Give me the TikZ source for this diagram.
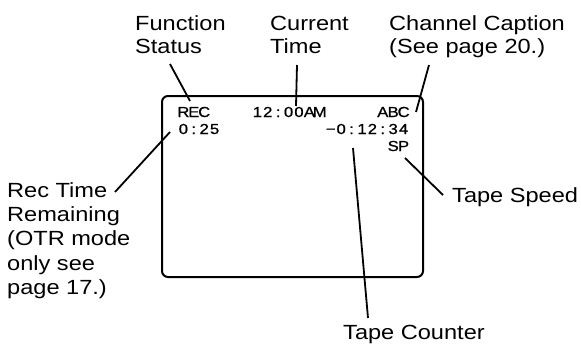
\documentclass[tikz,border=0pt]{standalone}
\usepackage{fontspec}
\setmainfont{Liberation Sans}[FakeStretch=1.15]
\newfontfamily\osdfont{Liberation Sans}[FakeStretch=1.15,FakeBold=0.8]
\newcommand\osdtext[1]{\osdloop#1\relax}
\def\osdloop#1{\ifx#1\relax\else\makebox[10.4pt]{#1}\expandafter\osdloop\fi}
\tikzset{
  lbl/.style={inner sep=0pt, align=left, font=\fontsize{20.5}{23}\selectfont},
  lbll/.style={inner sep=0pt, align=left, font=\fontsize{20.5}{24.4}\selectfont},
  osd/.style={inner sep=0pt, font=\osdfont\fontsize{14.5}{16}\selectfont},
  leader/.style={line width=1.8pt},
  screen/.style={line width=2pt, rounded corners=6pt}
}
\begin{document}
\begin{tikzpicture}[x=1pt,y=-1pt]
\useasboundingbox (0,0) rectangle (581,343);
% screen
\draw[screen] (162,96) rectangle (423,277);
% on-screen texts
\node[osd, anchor=base west] (rec) at (178,117) {\osdtext{REC}};
\node[osd, anchor=base west] (clock) at (252,117) {\osdtext{12:00AM}};
\node[osd, anchor=base east] (abc) at (409,117) {\osdtext{ABC}};
\node[osd, anchor=base west] (rem) at (178,134) {\osdtext{0:25}};
\node[osd, anchor=base east] (cnt) at (409,134) {\osdtext{−0:12:34}};
\node[osd, anchor=base east] (sp) at (409,151) {\osdtext{SP}};
% labels (base anchor = baseline of the last line)
\node[lbl, anchor=base west] (fs) at (135,53) {Function\\Status};
\node[lbl, anchor=base west] (ct) at (270,53) {Current\\Time};
\node[lbl, anchor=base west] (cc) at (389,53) {Channel Caption\\(See page 20.)};
\node[lbll, anchor=base west] (rt) at (7,294.6) {Rec Time\\Remaining\\(OTR mode\\only see\\page 17.)};
\node[lbl, anchor=base west] (ts) at (452,202) {Tape Speed};
\node[lbl, anchor=base west] (tc) at (343,339) {Tape Counter};
% leader end points
\coordinate (fsA) at (170,64);
\coordinate (fsB) at (190,101);
\coordinate (ctA) at (297,65);
\coordinate (ctB) at (296,106);
\coordinate (ccA) at (429,65);
\coordinate (ccB) at (416,112);
\coordinate (rtA) at (115,192);
\coordinate (rtB) at (170,132);
\coordinate (tsA) at (405,158);
\coordinate (tsB) at (443,195);
\coordinate (tcA) at (353,148);
\coordinate (tcB) at (368,318);
% leaders
\draw[leader] (fsA) -- (fsB);
\draw[leader] (ctA) -- (ctB);
\draw[leader] (ccA) -- (ccB);
\draw[leader] (rtA) -- (rtB);
\draw[leader] (tsA) -- (tsB);
\draw[leader] (tcA) -- (tcB);
\end{tikzpicture}
\end{document}
